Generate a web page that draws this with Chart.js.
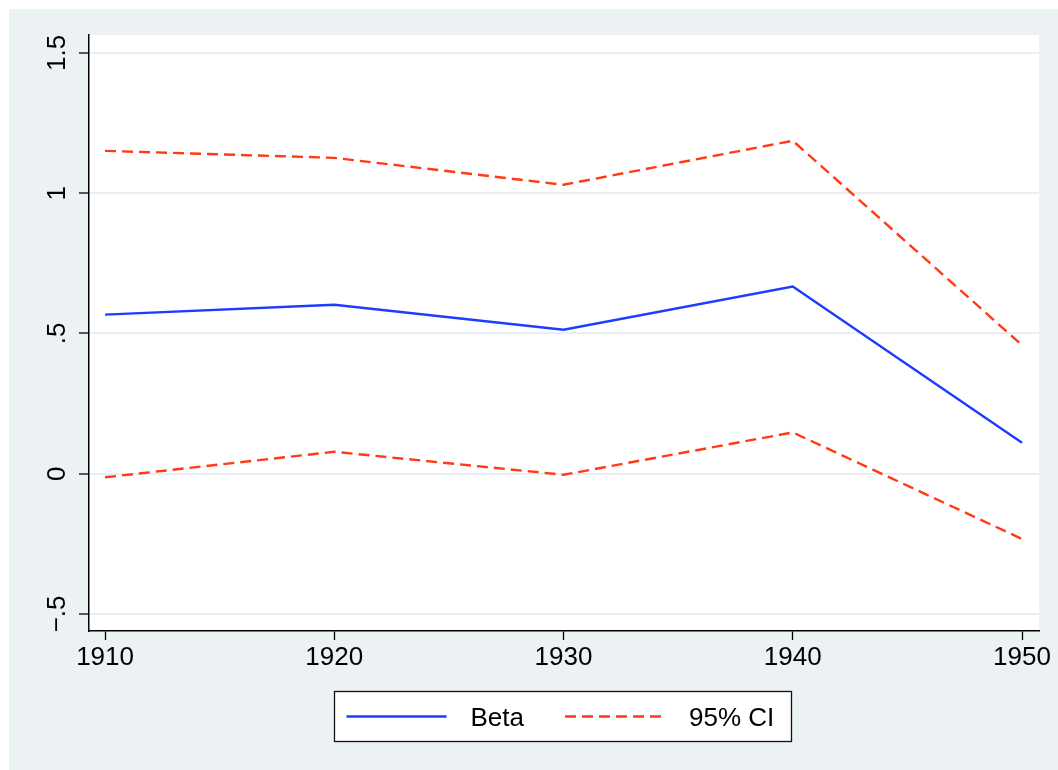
<!DOCTYPE html>
<html>
<head>
<meta charset="utf-8">
<script src="https://cdn.jsdelivr.net/npm/chart.js@4"></script>
<style>
  html, body { margin: 0; padding: 0; background: #fff; }
  #wrap { width: 1058px; height: 770px; }
</style>
</head>
<body>
<div id="wrap"><canvas id="betaChart" width="1058" height="770"></canvas></div>
<script>
// values
const years = [1910, 1920, 1930, 1940, 1950];
const beta = [0.567, 0.602, 0.513, 0.667, 0.110];
const ciUpper = [1.151, 1.126, 1.030, 1.187, 0.458];
const ciLower = [-0.013, 0.078, -0.004, 0.147, -0.233];
const yTicks = [-0.5, 0, 0.5, 1, 1.5];
const yTickLabels = ["\u2212.5", "0", ".5", "1", "1.5"];
const xTicks = [1910, 1920, 1930, 1940, 1950];

const FONT = "'Liberation Sans', Arial, Helvetica, sans-serif";
const GRAY_BG = "#ecf1f4";
const GRID = "#e8eef1";
const BLUE = "rgb(28,60,255)";
const RED = "rgb(255,58,20)";

const toPoints = arr => arr.map((v, i) => ({ x: years[i], y: v }));

// grey graph region + white plot region
const backgroundPlugin = {
  id: "backgroundPlugin",
  beforeDraw(chart) {
    const { ctx, chartArea } = chart;
    ctx.save();
    ctx.fillStyle = "#fff";
    ctx.fillRect(0, 0, chart.width, chart.height);
    ctx.fillStyle = GRAY_BG;
    ctx.fillRect(9, 9, chart.width - 9, chart.height - 9);
    ctx.fillStyle = "#fff";
    ctx.fillRect(chartArea.left, chartArea.top, chartArea.right - chartArea.left, chartArea.bottom - chartArea.top);
    ctx.restore();
  }
};

// y labels are vertical in the reference, chart.js can't rotate them on a y axis
const verticalYLabels = {
  id: "verticalYLabels",
  afterDraw(chart) {
    const { ctx } = chart;
    const yScale = chart.scales.y;
    ctx.save();
    ctx.fillStyle = "#000";
    ctx.font = "26px " + FONT;
    ctx.textAlign = "center";
    ctx.textBaseline = "alphabetic";
    yTicks.forEach((v, i) => {
      const py = yScale.getPixelForValue(v);
      ctx.save();
      ctx.translate(yScale.right - 24.5, py);
      ctx.rotate(-Math.PI / 2);
      ctx.fillText(yTickLabels[i], 0, 0);
      ctx.restore();
    });
    ctx.restore();
  }
};

// boxed legend under the plot
const boxedLegend = {
  id: "boxedLegend",
  afterDraw(chart) {
    const { ctx, chartArea } = chart;
    const seen = {};
    const items = [];
    chart.data.datasets.forEach(ds => {
      if (seen[ds.label]) return;
      seen[ds.label] = true;
      items.push(ds);
    });
    ctx.save();
    ctx.font = "26px " + FONT;
    const sample = 100, gapText = 24, gapItem = 41, padL = 12, padR = 17;
    let total = padL + padR;
    items.forEach((it, i) => {
      total += sample + gapText + ctx.measureText(it.label).width;
      if (i > 0) total += gapItem;
    });
    total = Math.round(total);
    const boxH = 50;
    const cx = (chartArea.left + chartArea.right) / 2 - 1.5;
    const left = Math.round(cx - total / 2) + 0.5;
    const top = chartArea.bottom + 60.5;
    ctx.fillStyle = "#fff";
    ctx.fillRect(left, top, total, boxH);
    ctx.strokeStyle = "#111";
    ctx.lineWidth = 1.3;
    ctx.strokeRect(left, top, total, boxH);

    const midY = top + boxH / 2;
    let x = left + padL;
    items.forEach((it, i) => {
      if (i > 0) x += gapItem;
      ctx.beginPath();
      ctx.strokeStyle = it.borderColor;
      ctx.lineWidth = it.borderWidth;
      ctx.setLineDash(it.borderDash || []);
      ctx.moveTo(x, midY);
      ctx.lineTo(x + sample, midY);
      ctx.stroke();
      ctx.setLineDash([]);
      x += sample + gapText;
      ctx.fillStyle = "#000";
      ctx.textAlign = "left";
      ctx.textBaseline = "alphabetic";
      ctx.fillText(it.label, x, midY + 9.5);
      x += ctx.measureText(it.label).width;
    });
    ctx.restore();
  }
};

const ctx = document.getElementById("betaChart");

const betaChart = new Chart(ctx, {
  type: "line",
  data: {
    datasets: [
      {
        label: "Beta",
        data: toPoints(beta),
        borderColor: BLUE,
        borderWidth: 2.4,
        pointRadius: 0,
        tension: 0,
        fill: false
      },
      {
        label: "95% CI",
        data: toPoints(ciUpper),
        borderColor: RED,
        borderWidth: 2.4,
        borderDash: [11, 6],
        pointRadius: 0,
        tension: 0,
        fill: false
      },
      {
        label: "95% CI",
        data: toPoints(ciLower),
        borderColor: RED,
        borderWidth: 2.4,
        borderDash: [11, 6],
        pointRadius: 0,
        tension: 0,
        fill: false
      }
    ]
  },
  plugins: [backgroundPlugin, verticalYLabels, boxedLegend],
  options: {
    responsive: false,
    animation: false,
    devicePixelRatio: 1,
    layout: {
      padding: { left: 9, right: 19, top: 35, bottom: 0 }
    },
    plugins: {
      legend: { display: false },
      tooltip: { enabled: false },
      title: { display: false }
    },
    scales: {
      x: {
        type: "linear",
        min: 1909.3,
        max: 1950.74,
        afterBuildTicks: scale => {
          scale.ticks = xTicks.map(v => ({ value: v }));
        },
        afterFit: scale => {
          scale.height = 139;
        },
        ticks: {
          autoSkip: false,
          maxRotation: 0,
          padding: 2,
          color: "#000",
          font: { family: FONT, size: 26 },
          callback: v => String(v)
        },
        grid: {
          display: true,
          drawOnChartArea: false,
          drawTicks: true,
          tickLength: 9,
          tickColor: "#000",
          tickWidth: 1.3
        },
        border: { display: true, color: "#000", width: 1.5 }
      },
      y: {
        type: "linear",
        min: -0.561,
        max: 1.564,
        afterBuildTicks: scale => {
          scale.ticks = yTicks.map(v => ({ value: v }));
        },
        afterFit: scale => {
          scale.width = 80;
        },
        ticks: { display: false },
        grid: {
          display: true,
          drawOnChartArea: true,
          color: GRID,
          lineWidth: 2,
          drawTicks: true,
          tickLength: 10,
          tickColor: "#000",
          tickWidth: 1.3
        },
        border: { display: true, color: "#000", width: 1.5 }
      }
    }
  }
});
</script>
</body>
</html>
